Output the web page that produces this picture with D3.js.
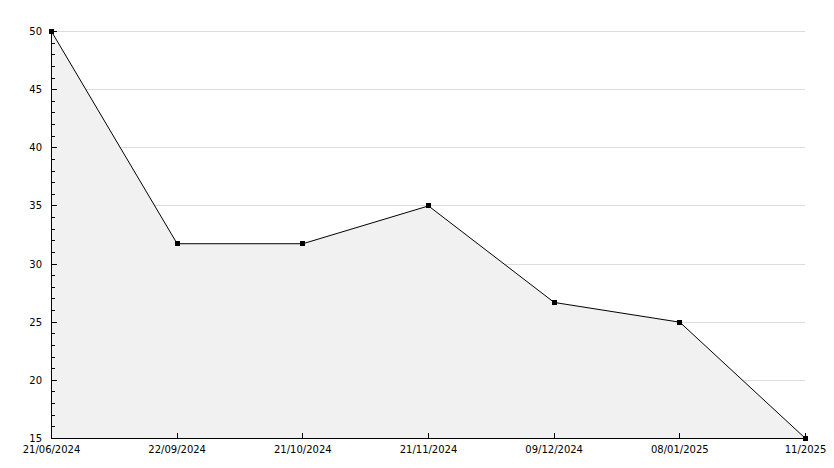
<!DOCTYPE html>
<html>
<head>
<meta charset="utf-8">
<script src="https://cdn.jsdelivr.net/npm/d3@7"></script>
<style>
  body { margin: 0; background: #fff; }
  text { font-family: "DejaVu Sans", sans-serif; font-size: 10px; fill: #000; }
</style>
</head>
<body>
<div id="chart"></div>
<script>
// data
var dates = ['21/06/2024', '22/09/2024', '21/10/2024', '21/11/2024', '09/12/2024', '08/01/2025', '11/2025'];
var values = [50, 31.75, 31.75, 35, 26.7, 25, 15];
var yTicks = [15, 20, 25, 30, 35, 40, 45, 50];

var W = 834, H = 468;
// plot box (note: "top" is reserved on window, so use prefixed names)
var pLeft = 51, pRight = 805, pTop = 31, pBottom = 438;

var svg = d3.select('#chart')
    .append('svg')
    .attr('width', W)
    .attr('height', H)
    .attr('shape-rendering', 'crispEdges');

var x = d3.scalePoint().domain(d3.range(dates.length)).range([pLeft + 0.5, pRight + 0.5]);
var y = d3.scaleLinear().domain([15, 50]).range([pBottom + 0.5, pTop + 0.5]);

var pts = values.map(function (v, i) { return { i: i, v: v }; });

// horizontal grid
svg.append('g')
    .selectAll('line')
    .data(yTicks.slice(1))
    .enter().append('line')
    .attr('x1', pLeft).attr('x2', pRight)
    .attr('y1', function (d) { return Math.floor(y(d)) + 0.5; })
    .attr('y2', function (d) { return Math.floor(y(d)) + 0.5; })
    .attr('stroke', '#dcdcdc');

// area under the line covers the grid
var area = d3.area()
    .x(function (d) { return x(d.i); })
    .y0(pBottom)
    .y1(function (d) { return y(d.v); });

svg.append('path')
    .datum(pts)
    .attr('d', area)
    .attr('fill', '#f1f1f1')
    .attr('shape-rendering', 'auto');

// y axis with minor ticks
var yAxis = svg.append('g');
yAxis.append('line')
    .attr('x1', pLeft + 0.5).attr('x2', pLeft + 0.5)
    .attr('y1', pTop).attr('y2', pBottom)
    .attr('stroke', '#000');

var minor = d3.range(15, 51, 1);
yAxis.selectAll('.minor')
    .data(minor)
    .enter().append('line')
    .attr('class', 'minor')
    .attr('x1', pLeft).attr('x2', function (d) { return d % 5 === 0 ? pLeft + 6 : pLeft + 4; })
    .attr('y1', function (d) { return Math.floor(y(d)) + 0.5; })
    .attr('y2', function (d) { return Math.floor(y(d)) + 0.5; })
    .attr('stroke', '#000');

yAxis.selectAll('text')
    .data(yTicks)
    .enter().append('text')
    .attr('x', pLeft - 9)
    .attr('y', function (d) { return y(d) + 3.5; })
    .attr('text-anchor', 'end')
    .text(function (d) { return d; });

// x axis
var xAxis = svg.append('g');
xAxis.append('line')
    .attr('x1', pLeft).attr('x2', pRight)
    .attr('y1', pBottom + 0.5).attr('y2', pBottom + 0.5)
    .attr('stroke', '#000');

xAxis.selectAll('.tick')
    .data(dates)
    .enter().append('line')
    .attr('class', 'tick')
    .attr('x1', function (d, i) { return Math.floor(x(i)) + 0.5; })
    .attr('x2', function (d, i) { return Math.floor(x(i)) + 0.5; })
    .attr('y1', pBottom).attr('y2', pBottom - 5)
    .attr('stroke', '#000');

xAxis.selectAll('text')
    .data(dates)
    .enter().append('text')
    .attr('x', function (d, i) { return x(i); })
    .attr('y', pBottom + 15)
    .attr('text-anchor', 'middle')
    .text(function (d) { return d; });

// line and markers
var line = d3.line()
    .x(function (d) { return x(d.i); })
    .y(function (d) { return y(d.v); });

svg.append('path')
    .datum(pts)
    .attr('d', line)
    .attr('fill', 'none')
    .attr('stroke', '#000')
    .attr('stroke-width', 1)
    .attr('shape-rendering', 'auto');

svg.selectAll('.pt')
    .data(pts)
    .enter().append('rect')
    .attr('class', 'pt')
    .attr('x', function (d) { return Math.floor(x(d.i)) - 2; })
    .attr('y', function (d) { return Math.floor(y(d.v)) - 2; })
    .attr('width', 5)
    .attr('height', 5)
    .attr('fill', '#000');
</script>
</body>
</html>
